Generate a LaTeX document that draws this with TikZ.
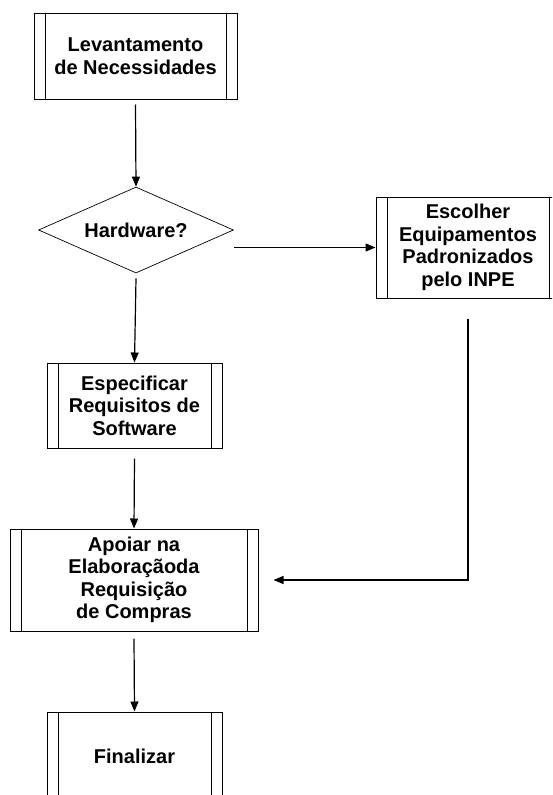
\documentclass[tikz,border=0pt]{standalone}
\usepackage{fontspec}
\setmainfont{Liberation Sans}
\usetikzlibrary{arrows.meta,shapes.geometric,positioning}

\begin{document}
\begin{tikzpicture}[x=1pt, y=-1pt, ->, >={Triangle[length=10pt,width=8pt]}, line width=1.2pt]
\tikzstyle{every node} = [font=\fontsize{20}{22.5}\selectfont\bfseries, align=center, inner sep=0pt]
\tikzset{proc/.style={rectangle, draw=black, line width=1pt, path picture={
  \draw[-, line width=1pt] ([xshift=11pt]path picture bounding box.north west) -- ([xshift=11pt]path picture bounding box.south west);
  \draw[-, line width=1pt] ([xshift=-11pt]path picture bounding box.north east) -- ([xshift=-11pt]path picture bounding box.south east);}}}
\tikzset{test/.style={diamond, draw=black, line width=0.7pt, aspect=2.27, minimum width=195pt, minimum height=86pt}}
\clip (0,0) rectangle (552,795);
\node (lev) [proc, minimum width=203pt, minimum height=86pt] at (135.5,56) {Levantamento\\de Necessidades};
\node (hw) [test] at (136,230) {Hardware?};
\node (esc) [proc, minimum width=184pt, minimum height=101pt] at (468,247.5) {Escolher\\Equipamentos\\Padronizados\\pelo INPE};
\node (esp) [proc, minimum width=175pt, minimum height=85pt] at (134.5,405.5) {Especificar\\Requisitos de\\Software};
\node (apo) [proc, minimum width=248pt, minimum height=102pt] at (134,580) {Apoiar na\\Elaboraçãoda\\Requisição\\de Compras};
\node (fin) [proc, minimum width=175pt, minimum height=88pt] at (134.5,756) {Finalizar};
\draw ([yshift=-5pt]lev.south) -- (hw.north);
\draw ([yshift=-5pt]hw.south) -- (esp.north);
\draw (hw.east |- esc.west) -- (esc.west);
\draw ([yshift=-10pt]esp.south) -- (apo.north);
\draw ([yshift=-7pt]apo.south) -- (fin.north);
\draw ([yshift=-20pt]esc.south) |- ([xshift=15pt]apo.east);
\end{tikzpicture}
\end{document}
